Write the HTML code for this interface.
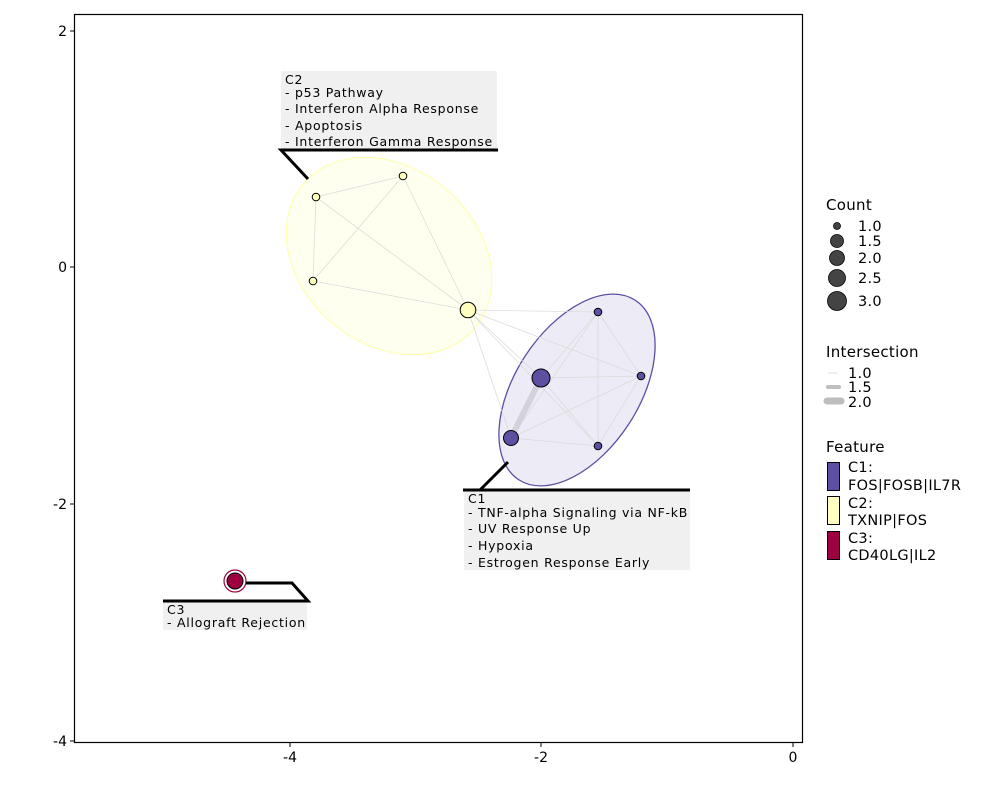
<!DOCTYPE html>
<html><head><style>body{margin:0;background:#fff}svg text{font-family:"DejaVu Sans","Liberation Sans",sans-serif}</style></head><body>
<svg width="1000" height="800" xmlns="http://www.w3.org/2000/svg">
<rect width="1000" height="800" fill="#fff"/>
<ellipse cx="389" cy="256" rx="112" ry="88" transform="rotate(40 389 256)" fill="#fffff0" stroke="#ffffa8" stroke-width="1"/>
<ellipse cx="577" cy="390" rx="107" ry="62" transform="rotate(-57 577 390)" fill="#edebf5" stroke="#5e4fa2" stroke-width="1.3"/>
<g stroke="#d9d9d9" stroke-width="0.8" fill="none" opacity="0.9">
<line x1="316" y1="197" x2="403" y2="176"/><line x1="316" y1="197" x2="313" y2="281"/><line x1="403" y1="176" x2="313" y2="281"/>
<line x1="316" y1="197" x2="468" y2="310"/><line x1="403" y1="176" x2="468" y2="310"/><line x1="313" y1="281" x2="468" y2="310"/>
<line x1="468" y1="310" x2="598" y2="312"/><line x1="468" y1="310" x2="641" y2="376"/><line x1="468" y1="310" x2="541" y2="378"/><line x1="468" y1="310" x2="511" y2="438"/><line x1="468" y1="310" x2="598" y2="446"/>
<line x1="598" y1="312" x2="641" y2="376"/><line x1="598" y1="312" x2="541" y2="378"/><line x1="598" y1="312" x2="511" y2="438"/><line x1="598" y1="312" x2="598" y2="446"/>
<line x1="641" y1="376" x2="541" y2="378"/><line x1="641" y1="376" x2="511" y2="438"/><line x1="641" y1="376" x2="598" y2="446"/>
<line x1="541" y1="378" x2="598" y2="446"/><line x1="511" y1="438" x2="598" y2="446"/>
</g>
<line x1="541" y1="378" x2="511" y2="438" stroke="#d3d1da" stroke-width="6"/>
<g stroke="#000" stroke-width="1">
<circle cx="316" cy="197" r="3.8" fill="#ffffbf"/><circle cx="403" cy="176" r="3.8" fill="#ffffbf"/><circle cx="313" cy="281" r="3.8" fill="#ffffbf"/>
<circle cx="468" cy="310" r="7.8" fill="#ffffbf"/>
<circle cx="598" cy="312" r="3.8" fill="#5e4fa2"/><circle cx="641" cy="376" r="3.8" fill="#5e4fa2"/><circle cx="598" cy="446" r="3.8" fill="#5e4fa2"/>
<circle cx="541" cy="378" r="9" fill="#5e4fa2"/><circle cx="511" cy="438" r="7.5" fill="#5e4fa2"/>
</g>
<circle cx="235" cy="581" r="11" fill="#fff" stroke="#9e0142" stroke-width="1.2"/>
<circle cx="235" cy="581" r="8" fill="#9e0142" stroke="#000" stroke-width="1"/>
<rect x="281" y="71" width="216" height="79" fill="#f0f0f0"/>
<rect x="464" y="490" width="226" height="80" fill="#f0f0f0"/>
<rect x="163" y="601" width="144" height="29" fill="#f0f0f0"/>
<g fill="#000" font-size="12.5" letter-spacing="0.75">
<text x="285" y="84">C2</text><text x="285" y="97">- p53 Pathway</text><text x="285" y="113">- Interferon Alpha Response</text><text x="285" y="130">- Apoptosis</text><text x="285" y="146">- Interferon Gamma Response</text>
<text x="468" y="503">C1</text><text x="468" y="517">- TNF-alpha Signaling via NF-kB</text><text x="468" y="533">- UV Response Up</text><text x="468" y="550">- Hypoxia</text><text x="468" y="567">- Estrogen Response Early</text>
<text x="167" y="614">C3</text><text x="167" y="627">- Allograft Rejection</text>
</g>
<g stroke="#000" stroke-width="3" fill="none">
<polyline points="308,179 281,150 498,150"/>
<polyline points="508,462 480,490"/><line x1="463" y1="490" x2="690" y2="490"/>
<polyline points="246,583 292,583 308,601 163,601"/>
</g>
<rect x="74.5" y="14.5" width="728" height="728" fill="none" stroke="#000" stroke-width="1.2"/>
<g stroke="#000"><line x1="70" y1="31" x2="74" y2="31"/><line x1="70" y1="267" x2="74" y2="267"/><line x1="70" y1="504" x2="74" y2="504"/><line x1="70" y1="741" x2="74" y2="741"/>
<line x1="290" y1="743" x2="290" y2="747"/><line x1="541" y1="743" x2="541" y2="747"/><line x1="793" y1="743" x2="793" y2="747"/></g>
<g font-size="14" fill="#000" text-anchor="end"><text x="67" y="36">2</text><text x="67" y="272">0</text><text x="67" y="509">-2</text><text x="67" y="746">-4</text></g>
<g font-size="14" fill="#000" text-anchor="middle"><text x="290" y="762">-4</text><text x="541" y="762">-2</text><text x="793" y="762">0</text></g>
<g font-size="15" fill="#000" letter-spacing="0.3">
<text x="826" y="210">Count</text>
<text x="826" y="357">Intersection</text>
<text x="826" y="452">Feature</text>
</g>
<g fill="#444" stroke="#000" stroke-width="0.8">
<circle cx="837" cy="226" r="3.5"/><circle cx="837" cy="241" r="6.5"/><circle cx="837" cy="258" r="7.5"/><circle cx="837" cy="278" r="8.5"/><circle cx="837" cy="301" r="9.5"/>
</g>
<g font-size="14.5" fill="#000" letter-spacing="0.3">
<text x="858" y="231">1.0</text><text x="858" y="246">1.5</text><text x="858" y="263">2.0</text><text x="858" y="283">2.5</text><text x="858" y="306">3.0</text>
<text x="848" y="378">1.0</text><text x="848" y="392">1.5</text><text x="848" y="407">2.0</text>
<text x="848" y="472">C1:</text><text x="848" y="490">FOS|FOSB|IL7R</text>
<text x="848" y="508">C2:</text><text x="848" y="525">TXNIP|FOS</text>
<text x="848" y="543">C3:</text><text x="848" y="560">CD40LG|IL2</text>
</g>
<g stroke="#bebebe" stroke-linecap="round"><line x1="828" y1="373" x2="837" y2="373" stroke-width="1" stroke="#ddd"/><line x1="828" y1="387" x2="839" y2="387" stroke-width="4"/><line x1="827" y1="401" x2="841" y2="401" stroke-width="7"/></g>
<g stroke="#000" stroke-width="1"><rect x="827.5" y="462.5" width="12" height="28" fill="#5e4fa2"/><rect x="827.5" y="496.5" width="12" height="28" fill="#ffffbf"/><rect x="827.5" y="531.5" width="12" height="28" fill="#9e0142"/></g>
</svg>
</body></html>
